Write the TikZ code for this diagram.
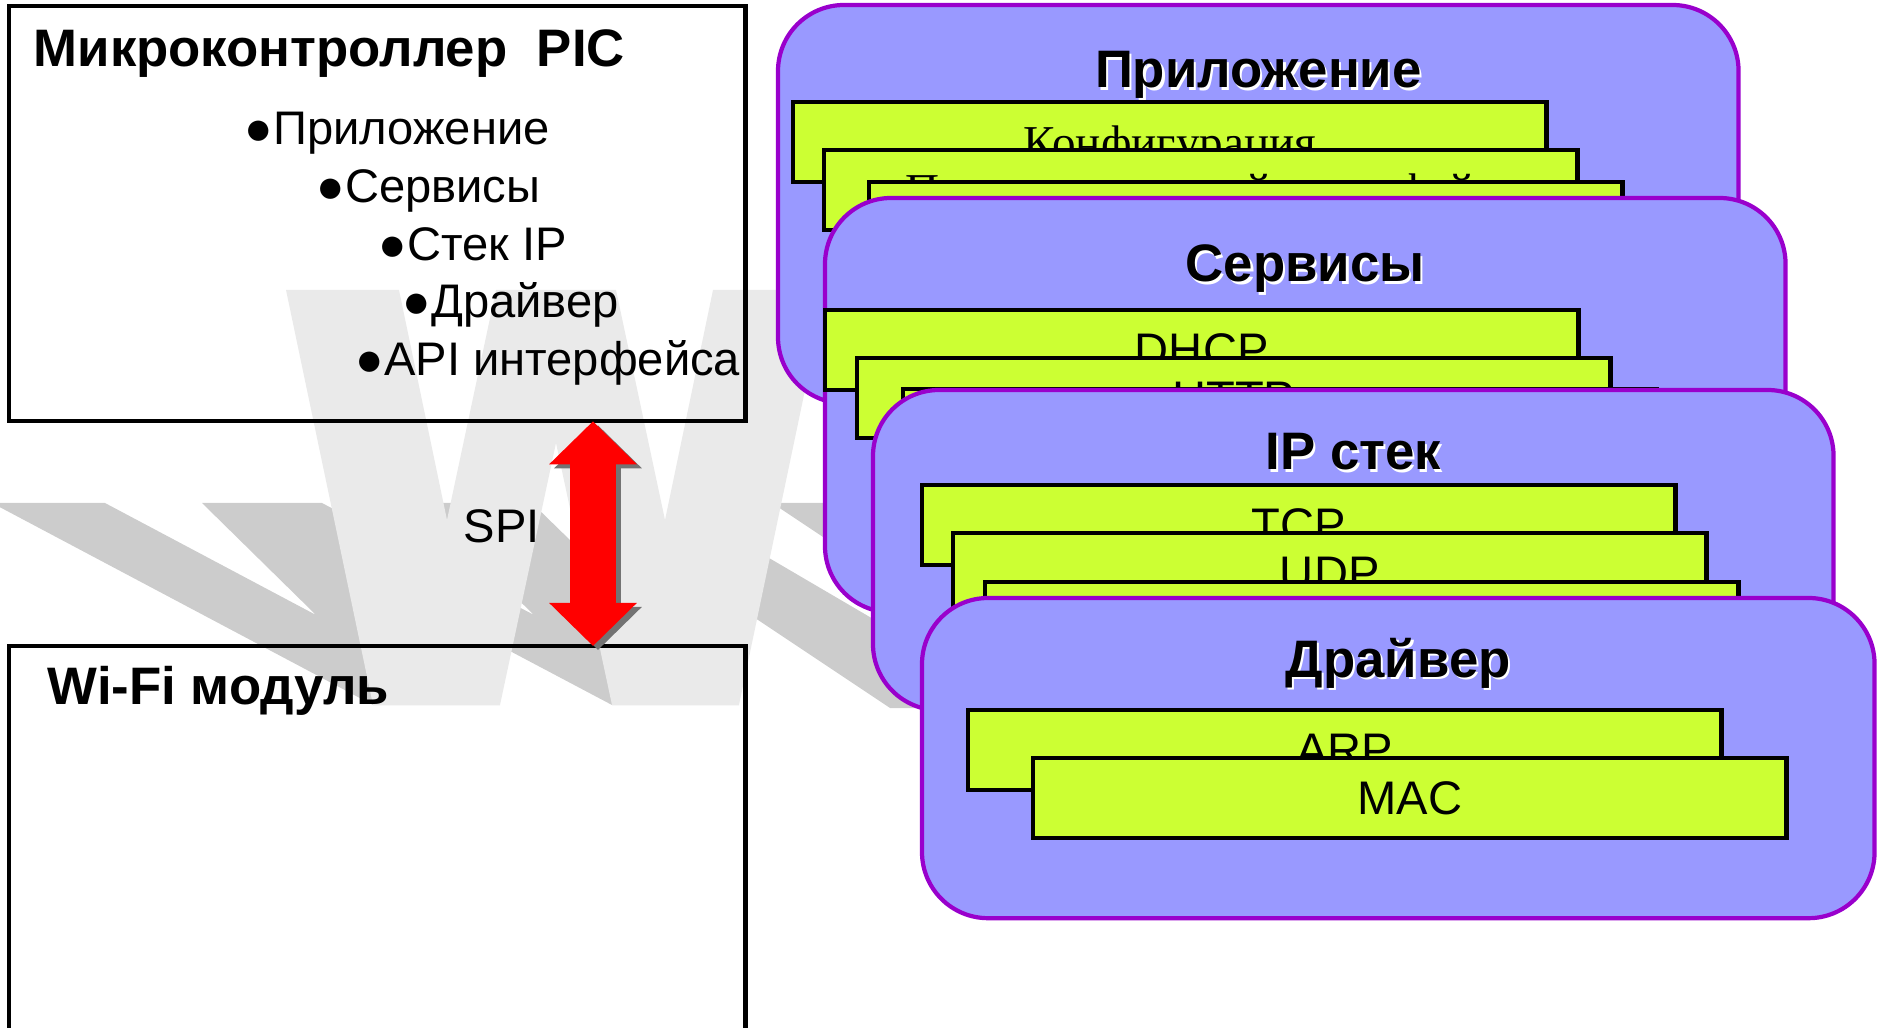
\documentclass[tikz,border=0pt]{standalone}
\usepackage{fontspec}
\setmainfont{Liberation Sans}
\newfontfamily\timesfont{Liberation Serif}
\usetikzlibrary{arrows.meta, positioning, calc}
\definecolor{layerfill}{RGB}{153,153,255}
\definecolor{layerline}{RGB}{153,0,204}
\definecolor{modgreen}{RGB}{204,255,51}
\definecolor{wmgray}{RGB}{234,234,234}
\definecolor{wmshadow}{RGB}{204,204,204}
\definecolor{spired}{RGB}{255,0,0}
\newcommand{\embossed}[1]{\rlap{\kern0.6pt\raisebox{-0.6pt}{\color{white}#1}}#1}

\begin{document}
\begin{tikzpicture}[
    x=0.01cm, y=-0.01cm,
    titlefont/.style={font=\fontsize{15pt}{18pt}\selectfont\bfseries},
    bodyfont/.style={font=\fontsize{13.4pt}{16pt}\selectfont},
    chipbox/.style={rectangle, draw=black, line width=1.2pt, outer sep=0pt,
                inner sep=0pt, minimum width=7.36cm, anchor=north west},
    stacklayer/.style={rectangle, draw=layerline, fill=layerfill, line width=1.2pt,
                rounded corners=0.66cm, outer sep=0pt, inner sep=0pt,
                minimum width=9.6cm, anchor=north west},
    modbox/.style={rectangle, draw=black, fill=modgreen, line width=1.3pt,
                outer sep=0pt, inner sep=0pt, minimum width=7.53cm,
                minimum height=0.8cm, text height=9.6pt, text depth=0pt,
                anchor=north west, bodyfont},
    layertitle/.style={anchor=base, inner sep=0pt, titlefont},
    bulletitem/.style={anchor=base west, inner sep=0pt, bodyfont},
    spiarrow/.style={line width=0.45cm, spired,
                {Triangle[length=0.43cm, width=0.85cm]}-{Triangle[length=0.43cm, width=0.85cm]}}
]
    \useasboundingbox (0,0) rectangle (1882,1028);

    % Watermark
    \fill[wmshadow] (-8,503) -- (105,503) -- (316,615) -- (202,503) -- (322,503)
        -- (534,615) -- (419,503) -- (532,503) -- (739,705) -- (612,705)
        -- (370,577) -- (500,705) -- (373,705) -- cycle;
    \fill[wmshadow] (772,503) -- (850,503) -- (850,555) -- cycle;
    \fill[wmshadow] (740,541) -- (950,664) -- (950,708) -- (890,708) -- (740,608) -- cycle;
    \fill[wmgray] (286,290) -- (399,290) -- (447,520) -- (496,290) -- (616,290)
        -- (665,520) -- (713,290) -- (826,290) -- (739,705) -- (612,705)
        -- (556,443) -- (500,705) -- (373,705) -- cycle;

    % Microcontroller and Wi-Fi module
    \node[chipbox, minimum height=4.15cm] (mcu) at (9,6) {};
    \node[chipbox, minimum height=4.3cm] (wifi) at (9,646) {};
    \node[titlefont, anchor=base west, inner sep=0pt] (mcutitle)
        at ($(mcu.north west)+(24,61)$) {Микроконтроллер\ \ PIC};
    \node[titlefont, anchor=base west, inner sep=0pt] (wifititle)
        at ($(wifi.north west)+(38,59)$) {Wi-Fi модуль};

    % Items
    \node[bulletitem] (itemapp) at (244,145) {●Приложение};
    \node[bulletitem] (itemsrv) at (316,203) {●Сервисы};
    \node[bulletitem] (itemip) at (378,261) {●Стек IP};
    \node[bulletitem] (itemdrv) at (402,318) {●Драйвер};
    \node[bulletitem] (itemapi) at (355,376) {●API интерфейса};

    % SPI link
    \coordinate (spix) at (593,0);
    \node[bulletitem] (spi) at (463,543) {SPI};
    \draw[spiarrow, black!55] ($(mcu.south -| spix)+(5,4)$) -- ($(wifi.north -| spix)+(5,4)$);
    \draw[spiarrow] (mcu.south -| spix) -- (wifi.north -| spix);

    % Stack layers
    \node[stacklayer, minimum height=3.98cm] (app) at (778,5) {};
    \node[layertitle] (apptitle) at ($(app.north)+(0,83)$) {\embossed{Приложение}};
    \node[modbox] (cfg) at (793,102) {\timesfont Конфигурация};
    \node[modbox] (ui) at (824,150) {\timesfont Пользовательский интерфейс};
    \node[modbox] (appthird) at (869,182) {};

    \node[stacklayer, minimum height=4.14cm] (srv) at (825,198) {};
    \node[layertitle] (srvtitle) at ($(srv.north)+(0,84)$) {\embossed{Сервисы}};
    \node[modbox] (dhcp) at (825,310) {DHCP};
    \node[modbox] (http) at (857,358) {HTTP};
    \node[modbox] (srvthird) at (903,389) {};

    \node[stacklayer, minimum height=3.2cm] (ipst) at (873,390) {};
    \node[layertitle] (iptitle) at ($(ipst.north)+(0,80)$) {\embossed{IP стек}};
    \node[modbox] (tcp) at (922,485) {TCP};
    \node[modbox] (udp) at (953,533) {UDP};
    \node[modbox] (ipthird) at (985,582) {};

    \node[stacklayer, minimum width=9.52cm, minimum height=3.2cm] (drv) at (922,598) {};
    \node[layertitle] (drvtitle) at ($(drv.north)+(0,79)$) {\embossed{Драйвер}};
    \node[modbox] (arp) at (968,710) {ARP};
    \node[modbox] (mac) at (1033,758) {MAC};
\end{tikzpicture}
\end{document}
